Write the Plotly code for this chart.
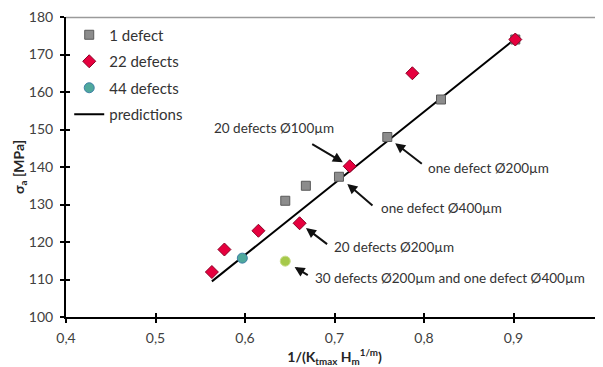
import plotly.graph_objects as go

# ---- data ----
one_x = [0.645, 0.668, 0.705, 0.759, 0.819, 0.902]
one_y = [131, 135, 137.4, 148, 158, 174]
d22_x = [0.563, 0.577, 0.615, 0.661, 0.717, 0.787, 0.902]
d22_y = [112, 118, 123, 125, 140.2, 165, 174]
d44_x = [0.597]
d44_y = [115.7]
extra_x = [0.645]
extra_y = [114.9]
pred_x = [0.563, 0.902]
pred_y = [109.5, 174.2]

x_ticks = [0.4, 0.5, 0.6, 0.7, 0.8, 0.9, 1.0]
x_ticktext = ["0,4", "0,5", "0,6", "0,7", "0,8", "0,9", "1"]
y_ticks = [100, 110, 120, 130, 140, 150, 160, 170, 180]

# annotation: (text, point_x, point_y, arrow_ax, arrow_ay, standoff, text_x, text_y)
notes = [
    ("20 defects Ø100µm", 0.717, 140.2, -39, -23, 8, 0.5631, 150.4),
    ("one defect Ø200µm", 0.759, 148, 36, 28, 10, 0.8022, 139.7),
    ("one defect Ø400µm", 0.705, 137.4, 35, 30, 11, 0.7497, 129.0),
    ("20 defects Ø200µm", 0.661, 125, 29, 22, 8, 0.6972, 118.7),
    ("30 defects Ø200µm and one defect Ø400µm", 0.645, 114.9, 24, 15, 11, 0.6760, 110.3),
]

FONT = "Lato"
fig = go.Figure()

fig.add_trace(go.Scatter(x=pred_x, y=pred_y, mode="lines", name="predictions",
                         line=dict(color="black", width=2), showlegend=False))
fig.add_trace(go.Scatter(x=one_x, y=one_y, mode="markers", name="1 defect", legendgroup="a",
                         marker=dict(symbol="square", size=9, color="#8c8c8c",
                                     line=dict(color="#5a5a5a", width=1))))
fig.add_trace(go.Scatter(x=d22_x, y=d22_y, mode="markers", name="22 defects", legendgroup="b",
                         marker=dict(symbol="diamond", size=10, color="#e6003e",
                                     line=dict(color="#8a0026", width=1))))
fig.add_trace(go.Scatter(x=d44_x, y=d44_y, mode="markers", name="44 defects", legendgroup="c",
                         marker=dict(symbol="circle", size=10, color="#4fa89c",
                                     line=dict(color="#3d7fa6", width=1))))
fig.add_trace(go.Scatter(x=extra_x, y=extra_y, mode="markers", showlegend=False,
                         marker=dict(symbol="circle", size=10, color="#a6c94a",
                                     line=dict(color="#c9dd8a", width=1))))
# legend entry for predictions
fig.add_trace(go.Scatter(x=[None], y=[None], mode="lines", name="predictions", legendgroup="d",
                         line=dict(color="black", width=2)))
# dummy trace for inside ticks overlay
fig.add_trace(go.Scatter(x=[None], y=[None], xaxis="x2", yaxis="y2", showlegend=False,
                         hoverinfo="skip"))

annotations = []
for text, px, py, ax, ay, so, tx, ty in notes:
    annotations.append(dict(x=px, y=py, xref="x", yref="y", text="", showarrow=True,
                            ax=ax, ay=ay, arrowhead=2, arrowsize=1, arrowwidth=2,
                            arrowcolor="#111111", standoff=so))
    annotations.append(dict(x=tx, y=ty, xref="x", yref="y", text=text, showarrow=False,
                            xanchor="left", yanchor="middle",
                            font=dict(family=FONT, size=13.5, color="#333333")))

axis_common = dict(showline=True, linecolor="black", linewidth=2, ticks="outside",
                   ticklen=4, tickwidth=2, tickcolor="black", showgrid=False, zeroline=False,
                   automargin=False, ticklabeloverflow="allow")

# page body has an 8px margin; compensate so the plot area sits like the reference
fig.update_layout(
    width=595, height=359,
    margin=dict(l=58, r=0, t=9, b=50),
    paper_bgcolor="white", plot_bgcolor="white",
    font=dict(family=FONT, size=14, color="#404040"),
    xaxis=dict(range=[0.4, 1.0], tickvals=x_ticks, ticktext=x_ticktext, ticklabelstandoff=3,
               title=dict(text="<b>1/(K<sub>tmax</sub> H<sub>m</sub><sup>1/m</sup>)</b>",
                          font=dict(size=14, color="#262626"), standoff=6),
               **axis_common),
    yaxis=dict(range=[100, 180], tickvals=y_ticks, ticklabelstandoff=4,
               title=dict(text="<b>σ<sub>a</sub> [MPa]</b>",
                          font=dict(size=14, color="#262626"), standoff=0),
               **axis_common),
    xaxis2=dict(overlaying="x", matches="x", range=[0.4, 1.0], tickvals=x_ticks,
                showticklabels=False, ticks="inside", ticklen=4, tickwidth=2,
                tickcolor="black", showline=False, showgrid=False, zeroline=False,
                automargin=False),
    yaxis2=dict(overlaying="y", matches="y", range=[100, 180], tickvals=y_ticks,
                showticklabels=False, ticks="inside", ticklen=4, tickwidth=2,
                tickcolor="black", showline=False, showgrid=False, zeroline=False,
                automargin=False),
    legend=dict(x=0.006, y=0.995, xanchor="left", yanchor="top", bgcolor="rgba(0,0,0,0)",
                font=dict(family=FONT, size=15, color="#333333"),
                traceorder="grouped", tracegroupgap=4),
    shapes=[dict(type="line", xref="paper", yref="paper", x0=0, x1=1, y0=0.998, y1=0.998,
                 line=dict(color="#9a9a9a", width=1.5), layer="above")],
    annotations=annotations,
)

fig.write_html("out.html")
